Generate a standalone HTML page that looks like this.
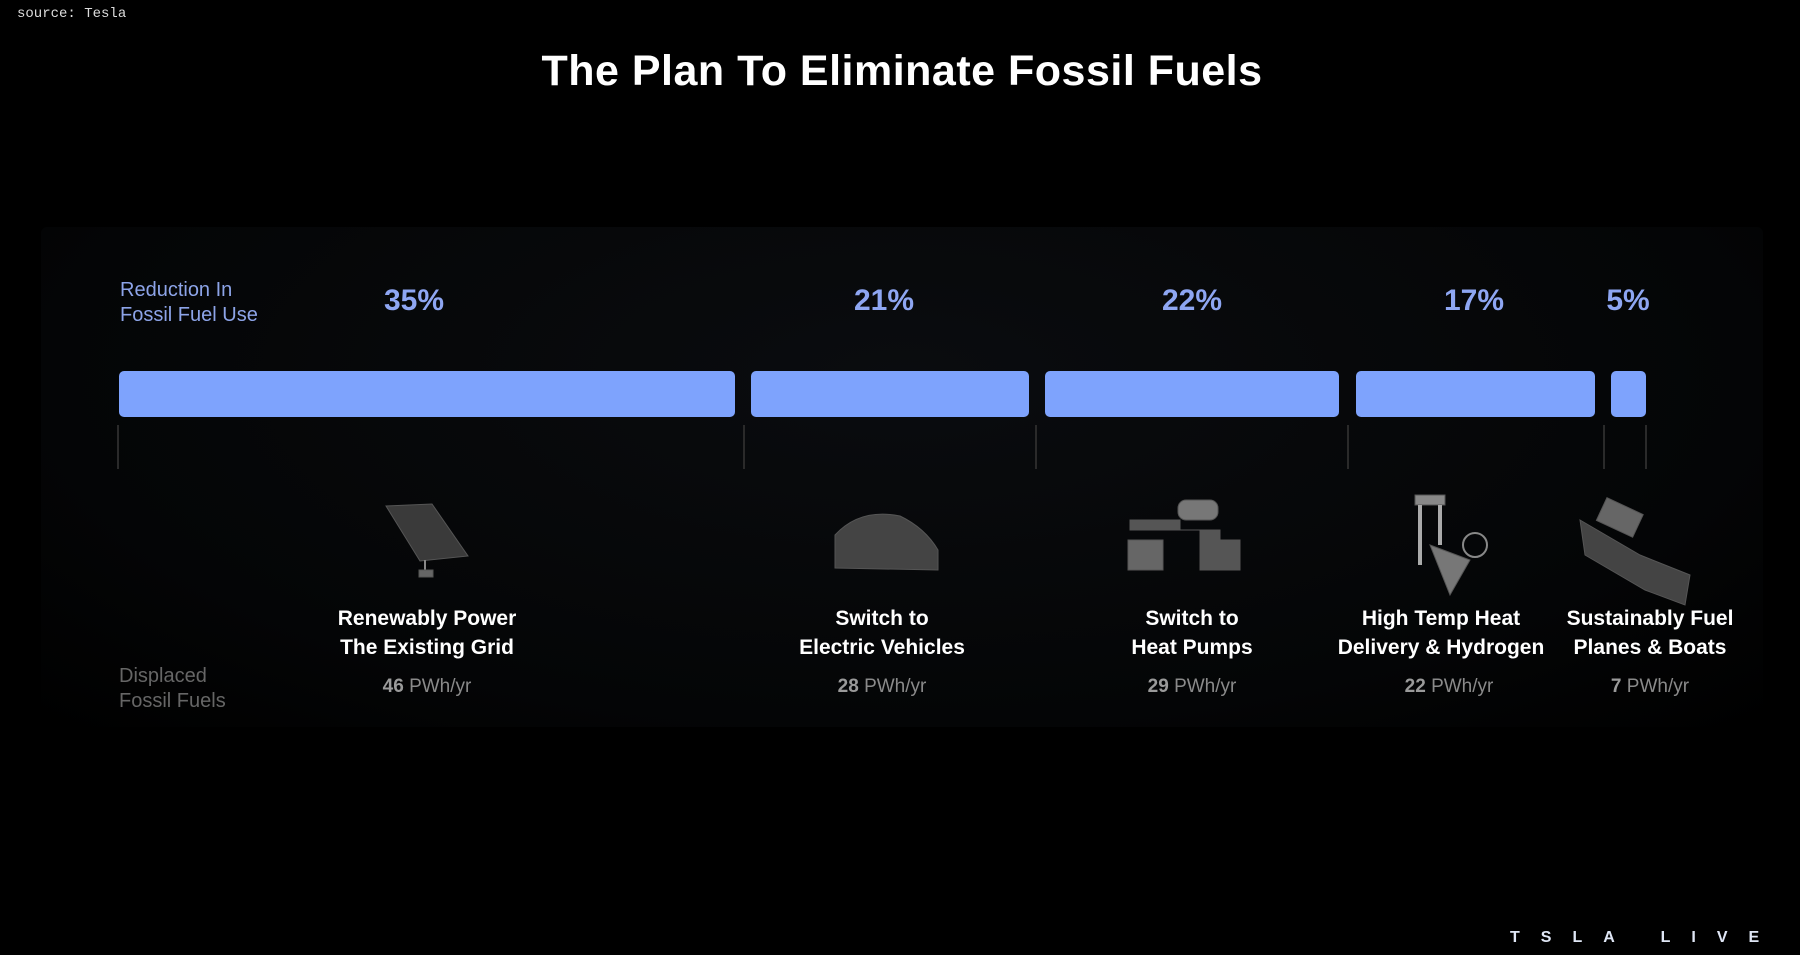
<!DOCTYPE html>
<html><head><meta charset="utf-8"><style>
*{margin:0;padding:0}
body{width:1800px;height:955px;background:#000;position:relative;overflow:hidden;font-family:"Liberation Sans",sans-serif}
.a{position:absolute;white-space:nowrap}
.c{transform:translateX(-50%);text-align:center}
.pct{color:#8ea6f2;font-size:30px;top:284px;font-weight:bold}
.bar{position:absolute;top:371px;height:46px;background:#7ea3fd;border-radius:5px}
.tick{position:absolute;top:425px;width:2px;height:44px;background:#2a2a2a}
.lab{color:#fff;font-size:21px;font-weight:bold;line-height:29px;top:604px}
.pw{color:#8a8a8a;font-size:19px;top:676px}
.pw b{color:#9a9a9a}
</style></head><body>
<div class="a" style="left:17px;top:6px;color:#ddd;font-family:'Liberation Mono',monospace;font-size:14px">source: Tesla</div>
<div class="a c" style="left:902px;top:47px;color:#fff;font-size:43px;font-weight:bold;letter-spacing:0.5px">The Plan To Eliminate Fossil Fuels</div>
<div class="a" style="left:41px;top:227px;width:1722px;height:500px;background:radial-gradient(ellipse at 50% 30%,#0a0c0f,#040506 70%,#000);border-radius:6px"></div>
<div class="a" style="left:120px;top:278px;color:#8da4e8;font-size:20px;line-height:25px">Reduction In<br>Fossil Fuel Use</div>
<div class="a c pct" style="left:414px">35%</div>
<div class="a c pct" style="left:884px">21%</div>
<div class="a c pct" style="left:1192px">22%</div>
<div class="a c pct" style="left:1474px">17%</div>
<div class="a c pct" style="left:1628px">5%</div>
<div class="bar" style="left:119px;width:616px"></div>
<div class="bar" style="left:751px;width:278px"></div>
<div class="bar" style="left:1045px;width:294px"></div>
<div class="bar" style="left:1356px;width:239px"></div>
<div class="bar" style="left:1611px;width:35px"></div>
<div class="tick" style="left:117px"></div><div class="tick" style="left:743px"></div><div class="tick" style="left:1035px"></div><div class="tick" style="left:1347px"></div><div class="tick" style="left:1603px"></div><div class="tick" style="left:1645px"></div>
<svg class="a" style="left:0;top:0" width="1800" height="955">
<g fill="#3a3a3a" stroke="#555" stroke-width="1">
<polygon points="386,506 432,504 468,556 420,561"/>
<line x1="425" y1="560" x2="425" y2="575" stroke="#888" stroke-width="2"/>
<rect x="419" y="570" width="14" height="7" fill="#666"/>
<path d="M835,535 Q860,508 900,516 Q925,528 938,550 L938,570 L835,568 Z" fill="#444"/>
<path d="M1130,520 h50 v10 h20 v40 h40 v-30 h-20 v-10 h-90 z" fill="#555"/>
<rect x="1128" y="540" width="35" height="30" fill="#666"/>
<rect x="1178" y="500" width="40" height="20" fill="#777" rx="8"/>
<rect x="1415" y="495" width="30" height="10" fill="#888"/>
<path d="M1420,505 v60 M1440,505 v40" stroke="#aaa" stroke-width="4"/>
<path d="M1430,545 l40,15 l-20,35 z" fill="#777"/>
<circle cx="1475" cy="545" r="12" fill="none" stroke="#888" stroke-width="2"/>
<path d="M1580,520 l60,35 l50,20 l-5,30 l-40,-15 l-60,-35 z" fill="#444"/>
<rect x="1600" y="505" width="40" height="25" fill="#666" transform="rotate(25 1620 517)"/>
</g>
</svg>
<div class="a c lab" style="left:427px">Renewably Power<br>The Existing Grid</div>
<div class="a c lab" style="left:882px">Switch to<br>Electric Vehicles</div>
<div class="a c lab" style="left:1192px">Switch to<br>Heat Pumps</div>
<div class="a c lab" style="left:1441px">High Temp Heat<br>Delivery &amp; Hydrogen</div>
<div class="a c lab" style="left:1650px">Sustainably Fuel<br>Planes &amp; Boats</div>
<div class="a" style="left:119px;top:664px;color:#666;font-size:20px;line-height:25px">Displaced<br>Fossil Fuels</div>
<div class="a c pw" style="left:427px"><b>46</b> PWh/yr</div>
<div class="a c pw" style="left:882px"><b>28</b> PWh/yr</div>
<div class="a c pw" style="left:1192px"><b>29</b> PWh/yr</div>
<div class="a c pw" style="left:1449px"><b>22</b> PWh/yr</div>
<div class="a c pw" style="left:1650px"><b>7</b> PWh/yr</div>
<div class="a" style="left:1510px;top:929px;color:#dfe6f5;font-size:16px;font-weight:bold;letter-spacing:21px">TSLA LIVE</div>
</body></html>
